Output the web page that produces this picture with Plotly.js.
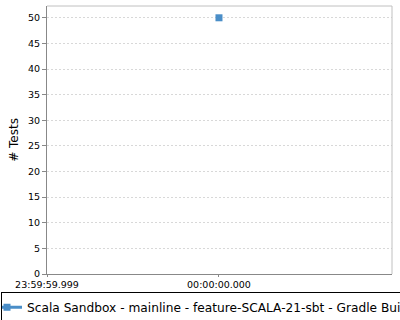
<!DOCTYPE html>
<html>
<head>
<meta charset="utf-8">
<script src="https://cdn.plot.ly/plotly-3.0.1.min.js"></script>
<style>html,body{margin:0;padding:0;background:#fff;}#chart{width:400px;height:320px;}</style>
</head>
<body>
<div id="chart"></div>
<script>
// Data
var seriesName = "Scala Sandbox - mainline - feature-SCALA-21-sbt - Gradle Build";
var timesMs = [0];          // offset in ms from 00:00:00.000
var testCounts = [50];
var xTickVals = [-1, 0];
var xTickText = ["23:59:59.999", "00:00:00.000"];
var yTickVals = [0, 5, 10, 15, 20, 25, 30, 35, 40, 45, 50];

var font = "DejaVu Sans, sans-serif";

var trace = {
  x: timesMs,
  y: testCounts,
  type: "scatter",
  mode: "lines+markers",
  name: seriesName,
  line: {color: "#4a8ec8", width: 3},
  marker: {symbol: "square", size: 7, color: "#4a8ec8"},
  showlegend: true
};

var layout = {
  width: 400,
  height: 320,
  margin: {l: 47, r: 8, t: 6, b: 46, pad: 0, autoexpand: false},
  paper_bgcolor: "#ffffff",
  plot_bgcolor: "#ffffff",
  font: {family: font, size: 10, color: "#000"},
  showlegend: true,
  xaxis: {
    range: [-1, 1.006],
    tickvals: xTickVals,
    ticktext: xTickText,
    ticks: "outside",
    ticklen: 2,
    tickcolor: "#888",
    showgrid: false,
    zeroline: false,
    showline: true,
    linecolor: "#888",
    linewidth: 1,
    tickfont: {family: font, size: 9.5, color: "#000"}
  },
  yaxis: {
    range: [0, 52.3],
    tickvals: yTickVals,
    ticks: "outside",
    ticklen: 4,
    tickcolor: "#888",
    showgrid: true,
    gridcolor: "#d8d8d8",
    griddash: "2px,2px",
    gridwidth: 1,
    zeroline: false,
    showline: true,
    linecolor: "#888",
    linewidth: 1,
    title: {text: "# Tests", font: {family: font, size: 12, color: "#000"}, standoff: 6},
    tickfont: {family: font, size: 9.5, color: "#000"}
  },
  shapes: [
    {type: "line", xref: "paper", yref: "paper", x0: 0, x1: 1, y0: 1, y1: 1, line: {color: "#c0c0c0", width: 1}},
    {type: "line", xref: "paper", yref: "paper", x0: 1, x1: 1, y0: 0, y1: 1, line: {color: "#c0c0c0", width: 1}}
  ],
  legend: {
    orientation: "h",
    xref: "container",
    yref: "container",
    x: 0.0025,
    xanchor: "left",
    y: 0.088,
    yanchor: "top",
    bordercolor: "#000",
    borderwidth: 1,
    bgcolor: "#fff",
    itemwidth: 30,
    indentation: -15,
    font: {family: font, size: 12.2, color: "#000"}
  }
};

Plotly.newPlot("chart", [trace], layout, {displayModeBar: false, staticPlot: true});
</script>
</body>
</html>
